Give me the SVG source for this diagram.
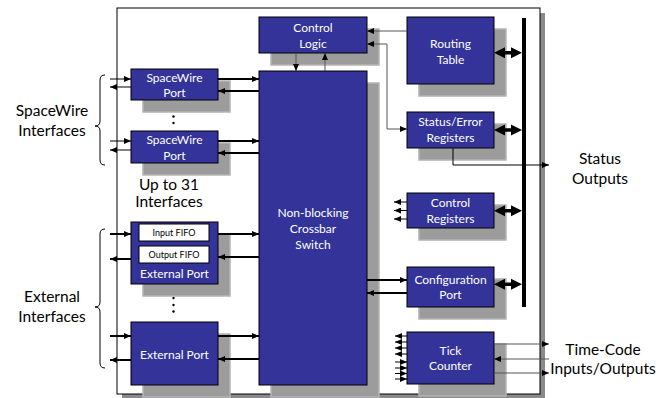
<svg xmlns="http://www.w3.org/2000/svg" xmlns:xlink="http://www.w3.org/1999/xlink" width="667" height="398" viewBox="0 0 667 398">
  <style>
    .box { fill: #333399; stroke: #000; stroke-width: 1; }
    .sh { fill: #9c9c9c; stroke: #b4b4b4; stroke-width: 1.5; }
    .fifo { fill: #fff; stroke: #000; stroke-width: 1; }
    .bt { font-family: Lato, "Open Sans", sans-serif; font-size: 12px; fill: #fff; text-anchor: middle; }
    .ft { font-family: Lato, "Open Sans", sans-serif; font-size: 9px; fill: #000; text-anchor: middle; }
    .lbl { font-family: Lato, "Open Sans", sans-serif; font-size: 15.5px; fill: #000; text-anchor: middle; }
    .thin { stroke: #000; stroke-width: 1; fill: none; }
    .grey { stroke: #555; stroke-width: 1; fill: none; }
    .thick { stroke: #000; stroke-width: 2; fill: none; }
    .brace { stroke: #000; stroke-width: 1; fill: none; }
    .dot { fill: #000; }
  </style>
  <defs>
    <marker id="ah" markerUnits="userSpaceOnUse" markerWidth="7" markerHeight="6" refX="7" refY="3" orient="auto-start-reverse">
      <path d="M0,0 L7,3 L0,6 Z" fill="#000"/>
    </marker>
    <!-- bus link: double-headed arrow, 28 long, centred on y=0 -->
    <path id="dbl" d="M0,0 L11,-5.5 L11,-1.7 L17,-1.7 L17,-5.5 L28,0 L17,5.5 L17,1.7 L11,1.7 L11,5.5 Z" fill="#000"/>
  </defs>

  <!-- router chip outline -->
  <g id="chip">
    <rect x="122" y="13" width="423" height="386" fill="#8a8a8a"/>
    <rect x="117" y="8" width="423" height="386" fill="#fff" stroke="#000" stroke-width="1"/>
  </g>

  <!-- side labels -->
  <g id="labels">
    <text class="lbl" x="52" y="115.5">SpaceWire</text>
    <text class="lbl" x="52" y="135.5">Interfaces</text>
    <text class="lbl" x="169" y="189.5">Up to 31</text>
    <text class="lbl" x="169" y="207">Interfaces</text>
    <text class="lbl" x="52" y="301.5">External</text>
    <text class="lbl" x="52" y="321.5">Interfaces</text>
    <text class="lbl" x="600" y="163.5">Status</text>
    <text class="lbl" x="600" y="183.5">Outputs</text>
    <text class="lbl" x="603" y="354.5">Time-Code</text>
    <text class="lbl" x="603" y="373.5">Inputs/Outputs</text>
    <path class="brace" d="M105,75 Q100,75 100,80 V121 Q100,126 95,126 Q100,126 100,131 V160 Q100,165 105,165"/>
    <path class="brace" d="M105,229 Q100,229 100,234 V302 Q100,307 95,307 Q100,307 100,312 V363 Q100,368 105,368"/>
    <circle class="dot" cx="173.5" cy="110" r="1.2"/>
    <circle class="dot" cx="173.5" cy="116.5" r="1.2"/>
    <circle class="dot" cx="173.5" cy="123" r="1.2"/>
    <circle class="dot" cx="173.5" cy="298" r="1.2"/>
    <circle class="dot" cx="173.5" cy="305" r="1.2"/>
    <circle class="dot" cx="173.5" cy="311.5" r="1.2"/>
  </g>

  <g id="control-logic">
    <rect class="sh" x="271" y="29" width="108" height="36"/>
    <rect class="box" x="259" y="17" width="108" height="36"/>
    <text class="bt" x="313" y="32">Control</text>
    <text class="bt" x="313" y="48">Logic</text>
  </g>

  <g id="crossbar">
    <rect class="sh" x="271" y="83" width="108" height="314"/>
    <rect class="box" x="259" y="71" width="108" height="314"/>
    <text class="bt" x="313" y="217">Non-blocking</text>
    <text class="bt" x="313" y="233">Crossbar</text>
    <text class="bt" x="313" y="249">Switch</text>
  </g>

  <g id="spacewire-port-1">
    <rect class="sh" x="143" y="81" width="87" height="31"/>
    <rect class="box" x="131" y="69" width="87" height="31"/>
    <text class="bt" x="174.5" y="82">SpaceWire</text>
    <text class="bt" x="174.5" y="97">Port</text>
  </g>

  <g id="spacewire-port-n">
    <rect class="sh" x="143" y="143" width="87" height="32"/>
    <rect class="box" x="131" y="131" width="87" height="32"/>
    <text class="bt" x="174.5" y="144">SpaceWire</text>
    <text class="bt" x="174.5" y="160">Port</text>
  </g>

  <g id="external-port-1">
    <rect class="sh" x="143" y="234" width="87" height="62"/>
    <rect class="box" x="131" y="222" width="87" height="62"/>
    <rect class="fifo" x="139" y="224" width="70" height="17"/>
    <text class="ft" x="174" y="235.5">Input FIFO</text>
    <rect class="fifo" x="139" y="246" width="70" height="17"/>
    <text class="ft" x="174" y="258">Output FIFO</text>
    <text class="bt" x="174.5" y="278">External Port</text>
  </g>

  <g id="external-port-n">
    <rect class="sh" x="143" y="334" width="87" height="63"/>
    <rect class="box" x="131" y="322" width="87" height="63"/>
    <text class="bt" x="174.5" y="359">External Port</text>
  </g>

  <g id="routing-table">
    <rect class="sh" x="419" y="29" width="87" height="67"/>
    <rect class="box" x="407" y="17" width="87" height="67"/>
    <text class="bt" x="450.5" y="48">Routing</text>
    <text class="bt" x="450.5" y="64">Table</text>
  </g>

  <g id="status-error-registers">
    <rect class="sh" x="419" y="124" width="87" height="36"/>
    <rect class="box" x="407" y="112" width="87" height="36"/>
    <text class="bt" x="450.5" y="126">Status/Error</text>
    <text class="bt" x="450.5" y="142">Registers</text>
  </g>

  <g id="control-registers">
    <rect class="sh" x="419" y="205" width="87" height="35"/>
    <rect class="box" x="407" y="193" width="87" height="35"/>
    <text class="bt" x="450.5" y="207">Control</text>
    <text class="bt" x="450.5" y="223">Registers</text>
  </g>

  <g id="configuration-port">
    <rect class="sh" x="419" y="279" width="87" height="40"/>
    <rect class="box" x="407" y="267" width="87" height="40"/>
    <text class="bt" x="450.5" y="284">Configuration</text>
    <text class="bt" x="450.5" y="299">Port</text>
  </g>

  <g id="tick-counter">
    <rect class="sh" x="419" y="344" width="87" height="52"/>
    <rect class="box" x="407" y="332" width="87" height="52"/>
    <text class="bt" x="450.5" y="355">Tick</text>
    <text class="bt" x="450.5" y="370">Counter</text>
  </g>

  <g id="connectors">
    <!-- internal bus -->
    <rect x="522" y="18" width="4" height="289" fill="#000"/>
    <use xlink:href="#dbl" x="494" y="52.7"/>
    <use xlink:href="#dbl" x="494" y="130"/>
    <use xlink:href="#dbl" x="494" y="210.7"/>
    <use xlink:href="#dbl" x="494" y="284.3"/>

    <!-- SpaceWire links -->
    <line class="thin" x1="110" y1="79" x2="131" y2="79" marker-end="url(#ah)"/>
    <line class="thin" x1="131" y1="87" x2="110" y2="87" marker-end="url(#ah)"/>
    <line class="thick" x1="218" y1="79" x2="259" y2="79" marker-end="url(#ah)"/>
    <line class="thick" x1="259" y1="91" x2="218" y2="91" marker-end="url(#ah)"/>
    <line class="thin" x1="110" y1="141" x2="131" y2="141" marker-end="url(#ah)"/>
    <line class="thin" x1="131" y1="150" x2="110" y2="150" marker-end="url(#ah)"/>
    <line class="thick" x1="218" y1="141" x2="259" y2="141" marker-end="url(#ah)"/>
    <line class="thick" x1="259" y1="153" x2="218" y2="153" marker-end="url(#ah)"/>

    <!-- external ports -->
    <line class="thick" x1="110" y1="234" x2="131" y2="234" marker-end="url(#ah)"/>
    <line class="thick" x1="131" y1="259" x2="110" y2="259" marker-end="url(#ah)"/>
    <line class="thick" x1="218" y1="234" x2="259" y2="234" marker-end="url(#ah)"/>
    <line class="thick" x1="259" y1="257" x2="218" y2="257" marker-end="url(#ah)"/>
    <line class="thick" x1="110" y1="336" x2="131" y2="336" marker-end="url(#ah)"/>
    <line class="thick" x1="131" y1="360" x2="110" y2="360" marker-end="url(#ah)"/>
    <line class="thick" x1="218" y1="336" x2="259" y2="336" marker-end="url(#ah)"/>
    <line class="thick" x1="259" y1="359" x2="218" y2="359" marker-end="url(#ah)"/>

    <!-- control logic -->
    <line class="grey" x1="296" y1="53" x2="296" y2="71" marker-end="url(#ah)"/>
    <line class="grey" x1="325" y1="71" x2="325" y2="53" marker-end="url(#ah)"/>
    <line class="grey" x1="407" y1="31" x2="367" y2="31" marker-end="url(#ah)"/>
    <path class="grey" d="M367,44 H387 V129 H407" marker-start="url(#ah)" marker-end="url(#ah)"/>

    <!-- status outputs -->
    <path class="thin" d="M453,148 V165 H549" marker-end="url(#ah)"/>

    <!-- control register outputs -->
    <line class="thin" x1="407" y1="202" x2="394" y2="202" marker-end="url(#ah)"/>
    <line class="thin" x1="407" y1="210.5" x2="394" y2="210.5" marker-end="url(#ah)"/>
    <line class="thin" x1="407" y1="219" x2="394" y2="219" marker-end="url(#ah)"/>

    <!-- configuration port -->
    <line class="thick" x1="367" y1="280" x2="407" y2="280" marker-end="url(#ah)"/>
    <line class="thick" x1="407" y1="293" x2="367" y2="293" marker-end="url(#ah)"/>

    <!-- tick counter -->
    <line class="thin" x1="407" y1="336" x2="395" y2="336" marker-end="url(#ah)"/>
    <line class="thin" x1="407" y1="342" x2="395" y2="342" marker-end="url(#ah)"/>
    <line class="thin" x1="407" y1="348" x2="395" y2="348" marker-end="url(#ah)"/>
    <line class="thin" x1="407" y1="354" x2="395" y2="354" marker-end="url(#ah)"/>
    <line class="thin" x1="395" y1="362" x2="407" y2="362" marker-end="url(#ah)"/>
    <line class="thin" x1="395" y1="368" x2="407" y2="368" marker-end="url(#ah)"/>
    <line class="thin" x1="395" y1="373.5" x2="407" y2="373.5" marker-end="url(#ah)"/>
    <line class="thin" x1="395" y1="379" x2="407" y2="379" marker-end="url(#ah)"/>
    <line class="grey" x1="494" y1="344" x2="549" y2="344" marker-end="url(#ah)"/>
    <line class="grey" x1="549" y1="359" x2="494" y2="359" marker-end="url(#ah)"/>
    <line class="grey" x1="494" y1="373" x2="549" y2="373" marker-end="url(#ah)"/>
  </g>
</svg>
